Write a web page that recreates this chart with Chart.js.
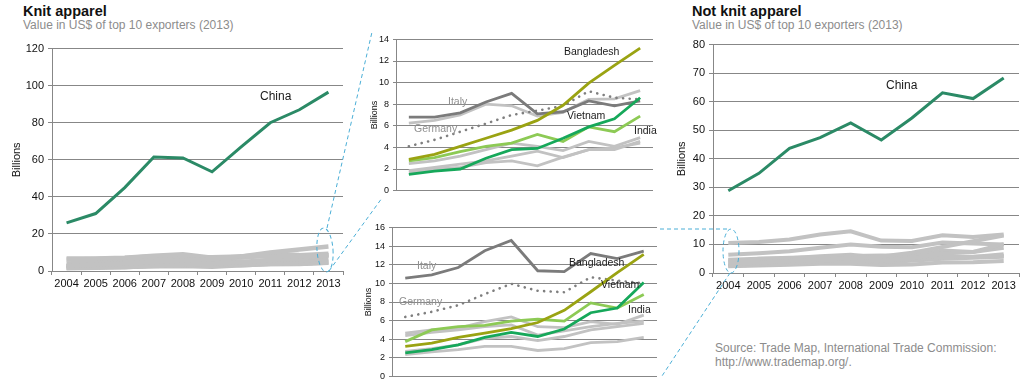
<!DOCTYPE html>
<html>
<head>
<meta charset="utf-8">
<script src="https://cdn.jsdelivr.net/npm/chart.js@4"></script>
<style>
  body { margin: 0; background: #fff; font-family: "Liberation Sans", Arial, sans-serif; }
  #wrap { position: relative; width: 1035px; height: 388px; overflow: hidden; }
  canvas { position: absolute; }
  .t { position: absolute; white-space: nowrap; }
  .title { font-weight: bold; font-size: 14.5px; color: #111; }
  .sub { font-size: 12px; color: #8c8c8c; }
  .lbl { font-size: 10.5px; color: #1a1a1a; transform: translateY(-50%); }
  .gl { color: #8f8f8f; }
  #links { position: absolute; left: 0; top: 0; }
</style>
</head>
<body>
<div id="wrap">
  <div class="t title" style="left:23px;top:3px;">Knit apparel</div>
  <div class="t sub" style="left:23px;top:18px;">Value in US$ of top 10 exporters (2013)</div>
  <div class="t title" style="left:692px;top:3px;">Not knit apparel</div>
  <div class="t sub" style="left:692px;top:18px;">Value in US$ of top 10 exporters (2013)</div>

  <canvas id="knitFull" width="350" height="260" style="left:0;top:38px;"></canvas>
  <canvas id="knitZoom" width="300" height="170" style="left:360px;top:30px;"></canvas>
  <canvas id="notKnitZoom" width="308" height="168" style="left:356px;top:218px;"></canvas>
  <canvas id="notKnitFull" width="360" height="262" style="left:670px;top:34px;"></canvas>

  <div class="t lbl" style="left:260px;top:96px;font-size:12px;">China</div>
  <div class="t lbl" style="left:886px;top:85px;font-size:12px;">China</div>

  <div class="t lbl" style="left:564px;top:51px;">Bangladesh</div>
  <div class="t lbl gl" style="left:448px;top:101px;">Italy</div>
  <div class="t lbl gl" style="left:414px;top:128px;">Germany</div>
  <div class="t lbl" style="left:567px;top:115px;">Vietnam</div>
  <div class="t lbl" style="left:634px;top:130px;">India</div>

  <div class="t lbl gl" style="left:417px;top:265px;">Italy</div>
  <div class="t lbl gl" style="left:399px;top:301px;">Germany</div>
  <div class="t lbl" style="left:569px;top:262px;">Bangladesh</div>
  <div class="t lbl" style="left:601px;top:284px;">Vietnam</div>
  <div class="t lbl" style="left:628px;top:309px;">India</div>

  <div class="t" style="left:715px;top:341px;font-size:12px;color:#8c8c8c;line-height:14px;">Source: Trade Map, International Trade Commission:<br>http://www.trademap.org/.</div>

  <svg id="links" width="1035" height="388">
    <g fill="none" stroke="#4aaed6" stroke-width="1" stroke-dasharray="4,3">
      <ellipse cx="325" cy="250" rx="8" ry="22" transform="rotate(-4 325 250)"/>
      <line x1="327" y1="228" x2="372" y2="32"/>
      <line x1="329" y1="271" x2="382" y2="198"/>
      <ellipse cx="731" cy="251" rx="8" ry="22"/>
      <line x1="660" y1="229" x2="728" y2="229"/>
      <line x1="730" y1="273" x2="662" y2="376"/>
    </g>
  </svg>
</div>

<script>
const years = ['2004', '2005', '2006', '2007', '2008', '2009', '2010', '2011', '2012', '2013'];

// Knit apparel, billions US$
const knitChina = [26, 31, 45, 61.5, 61, 53.5, 67, 80, 87, 96.5];
const knitBangladesh = [2.9, 3.35, 4.1, 4.85, 5.6, 6.5, 7.9, 9.95, 11.6, 13.2];
const knitItaly = [6.8, 6.8, 7.2, 8.2, 9.0, 7.1, 7.3, 8.3, 7.85, 8.3];
const knitGermany = [4.1, 4.7, 5.45, 6.2, 7.0, 7.4, 7.85, 9.2, 8.6, 8.45];
const knitVietnam = [1.5, 1.8, 2.0, 3.0, 3.8, 3.9, 4.85, 5.9, 6.65, 8.6];
const knitIndia = [2.75, 3.05, 3.6, 4.1, 4.4, 5.2, 4.55, 5.9, 5.45, 6.9];
const knitOther1 = [6.25, 6.5, 7.0, 8.0, 7.85, 6.9, 7.25, 8.45, 8.5, 9.25];
const knitOther2 = [2.5, 2.75, 3.2, 3.8, 4.4, 4.1, 3.7, 4.55, 4.1, 4.9];
const knitOther3 = [1.85, 2.15, 2.45, 2.75, 3.2, 3.65, 3.05, 3.8, 3.8, 4.55];
const knitOther4 = [1.7, 2.0, 2.15, 2.6, 2.75, 2.3, 3.1, 3.8, 3.95, 4.4];

// Not knit apparel, billions US$
const nkChina = [28.8, 34.9, 43.7, 47.4, 52.6, 46.6, 54.3, 63.1, 61.1, 68.3];
const nkBangladesh = [3.25, 3.6, 4.2, 4.65, 5.15, 5.8, 7.1, 9.1, 11.15, 13.1];
const nkItaly = [10.55, 10.9, 11.7, 13.5, 14.6, 11.35, 11.25, 13.2, 12.65, 13.45];
const nkGermany = [6.4, 6.95, 7.65, 8.85, 9.95, 9.2, 9.05, 10.65, 10.3, 10.0];
const nkVietnam = [2.55, 2.9, 3.4, 4.2, 4.75, 4.3, 5.1, 6.85, 7.35, 10.1];
const nkIndia = [3.75, 5.0, 5.35, 5.5, 5.95, 6.15, 5.95, 7.9, 7.35, 8.8];
const nkOther1 = [4.65, 5.0, 5.2, 5.9, 6.4, 5.35, 5.25, 5.9, 5.6, 6.6];
const nkOther2 = [4.4, 4.75, 5.0, 5.35, 5.55, 4.45, 4.9, 5.35, 5.7, 5.95];
const nkOther3 = [2.7, 3.0, 3.4, 4.1, 4.3, 3.85, 4.3, 5.0, 5.35, 5.7];
const nkOther4 = [2.35, 2.65, 2.9, 3.25, 3.25, 2.8, 3.0, 3.65, 3.75, 4.2];

const knitMax = 120, knitStep = 20;
const knitZoomMax = 14, knitZoomStep = 2;
const nkZoomMax = 16, nkZoomStep = 2;
const nkMax = 80, nkStep = 10;

const GRID = '#878787';
const LIGHT = '#c2c2c2';
const C_CHINA = '#2b8a66';
const C_BGD = '#9aa312';
const C_VNM = '#16a85a';
const C_IND = '#8dca55';
const C_ITA = '#7b7b7b';
const C_GER = '#7f7f7f';

Chart.defaults.font.family = '"Liberation Sans", Arial, sans-serif';
Chart.defaults.color = '#111';

function line(data, color, width, extra) {
    return Object.assign({
        data: data,
        borderColor: color,
        borderWidth: width,
        pointRadius: 0,
        tension: 0,
        fill: false
    }, extra || {});
}

function dotted(data, color) {
    return line(data, color, 2.6, { borderDash: [0.1, 6.5], borderCapStyle: 'round' });
}

function makeChart(id, datasets, o) {
    const scales = {
        x: {
            display: o.showX,
            offset: true,
            grid: { display: o.showX, offset: true, drawOnChartArea: false, color: GRID, tickLength: 4 },
            border: { color: GRID },
            ticks: { font: { size: 11 }, padding: 2, maxRotation: 0, autoSkip: false },
            afterFit: s => { if (o.xh) s.height = o.xh; }
        },
        y: {
            min: 0,
            max: o.max,
            grid: { color: GRID, tickLength: o.tickLen },
            border: { color: GRID },
            ticks: { stepSize: o.step, font: { size: o.fs }, padding: o.tickPad },
            title: { display: true, text: 'Billions', font: { size: o.fs }, padding: { top: o.titlePad, bottom: 0 } },
            afterFit: s => { s.width = o.yw; }
        }
    };
    return new Chart(document.getElementById(id), {
        type: 'line',
        data: { labels: years, datasets: datasets },
        options: {
            responsive: false,
            animation: false,
            devicePixelRatio: 1,
            layout: { padding: o.pad },
            plugins: { legend: { display: false }, tooltip: { enabled: false } },
            scales: scales
        }
    });
}

// Knit apparel, full scale
makeChart('knitFull', [
    line(knitChina, C_CHINA, 3),
    line(knitBangladesh, LIGHT, 4.5),
    line(knitItaly, LIGHT, 4.5),
    line(knitGermany, LIGHT, 4.5),
    line(knitVietnam, LIGHT, 4.5),
    line(knitIndia, LIGHT, 4.5),
    line(knitOther1, LIGHT, 4.5),
    line(knitOther2, LIGHT, 4.5),
    line(knitOther3, LIGHT, 4.5),
    line(knitOther4, LIGHT, 4.5)
], { showX: true, xh: 27, max: knitMax, step: knitStep, fs: 11, yw: 52, tickLen: 4, tickPad: 4, titlePad: 10,
     pad: { top: 6, right: 7, left: 0, bottom: 0 } });

// Knit apparel, zoom on the other nine
makeChart('knitZoom', [
    line(knitBangladesh, C_BGD, 2.8),
    line(knitVietnam, C_VNM, 2.8),
    line(knitIndia, C_IND, 2.8),
    line(knitItaly, C_ITA, 2.8),
    dotted(knitGermany, C_GER),
    line(knitOther1, LIGHT, 2.8),
    line(knitOther2, LIGHT, 2.8),
    line(knitOther3, LIGHT, 2.8),
    line(knitOther4, LIGHT, 2.8)
], { showX: false, max: knitZoomMax, step: knitZoomStep, fs: 9, yw: 36, tickLen: 3, tickPad: 4, titlePad: 9.5,
     pad: { top: 8, right: 7, left: 0, bottom: 6 } });

// Not knit apparel, zoom on the other nine
makeChart('notKnitZoom', [
    line(nkBangladesh, C_BGD, 2.8),
    line(nkVietnam, C_VNM, 2.8),
    line(nkIndia, C_IND, 2.8),
    line(nkItaly, C_ITA, 2.8),
    dotted(nkGermany, C_GER),
    line(nkOther1, LIGHT, 2.8),
    line(nkOther2, LIGHT, 2.8),
    line(nkOther3, LIGHT, 2.8),
    line(nkOther4, LIGHT, 2.8)
], { showX: false, max: nkZoomMax, step: nkZoomStep, fs: 9, yw: 36, tickLen: 3, tickPad: 4, titlePad: 7.5,
     pad: { top: 8, right: 7, left: 0, bottom: 9 } });

// Not knit apparel, full scale
makeChart('notKnitFull', [
    line(nkChina, C_CHINA, 3),
    line(nkBangladesh, LIGHT, 4),
    line(nkItaly, LIGHT, 4),
    line(nkGermany, LIGHT, 4),
    line(nkVietnam, LIGHT, 4),
    line(nkIndia, LIGHT, 4),
    line(nkOther1, LIGHT, 4),
    line(nkOther2, LIGHT, 4),
    line(nkOther3, LIGHT, 4),
    line(nkOther4, LIGHT, 4)
], { showX: true, xh: 23, max: nkMax, step: nkStep, fs: 11, yw: 43, tickLen: 4, tickPad: 4, titlePad: 5.5,
     pad: { top: 6, right: 11, left: 0, bottom: 0 } });
</script>
</body>
</html>
